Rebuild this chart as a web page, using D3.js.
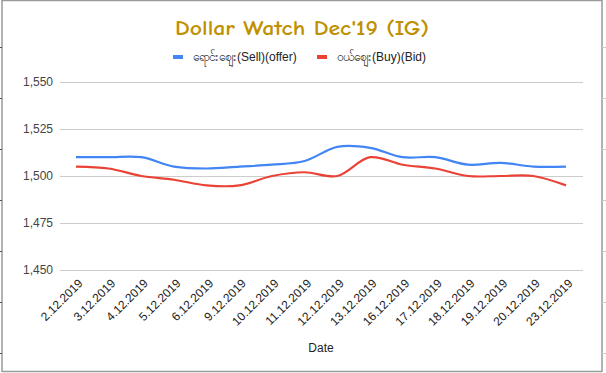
<!DOCTYPE html>
<html>
<head>
<meta charset="utf-8">
<script src="https://cdn.jsdelivr.net/npm/d3@7"></script>
<style>
  body { margin: 0; background: #fff; }
  svg { display: block; font-family: Arial, "Liberation Sans", sans-serif; }
</style>
</head>
<body>
<svg id="chart" width="606" height="373"></svg>
<script>
// dates on the x axis
var dates = ["2.12.2019", "3.12.2019", "4.12.2019", "5.12.2019", "6.12.2019", "9.12.2019",
    "10.12.2019", "11.12.2019", "12.12.2019", "13.12.2019", "16.12.2019", "17.12.2019",
    "18.12.2019", "19.12.2019", "20.12.2019", "23.12.2019"];
// sell (offer) rates
var sellValues = [1510, 1510, 1510, 1505, 1504, 1505, 1506, 1508, 1515.5, 1515, 1510, 1510, 1506, 1507, 1505, 1505];
// buy (bid) rates
var buyValues = [1505, 1504, 1500, 1498, 1495, 1495, 1500, 1502, 1500, 1510, 1506, 1504, 1500, 1500, 1500, 1495];
var yTicks = [1450, 1475, 1500, 1525, 1550];
var seriesNames = ["ရောင်းဈေး(Sell)(offer)", "ဝယ်ဈေး(Buy)(Bid)"];
var seriesColors = ["#4285f4", "#ea4335"];

var svg = d3.select("#chart");
var width = 606, height = 373;

// sheet cell borders around the chart
var frame = svg.append("g");
frame.append("line").attr("x1", 2).attr("y1", 0.5).attr("x2", 602).attr("y2", 0.5)
    .attr("stroke", "#9a9a9a").attr("stroke-width", 1.5);
frame.append("line").attr("x1", 2).attr("y1", 0).attr("x2", 2).attr("y2", 372)
    .attr("stroke", "#9a9a9a").attr("stroke-width", 1.5);
frame.append("line").attr("x1", 602).attr("y1", 0).attr("x2", 602).attr("y2", 372)
    .attr("stroke", "#9a9a9a").attr("stroke-width", 1.5);
frame.append("line").attr("x1", 2).attr("y1", 371.5).attr("x2", 602).attr("y2", 371.5)
    .attr("stroke", "#9a9a9a").attr("stroke-width", 1.5);
d3.range(47, 373, 51).forEach(function (ty) {
    frame.append("line").attr("x1", 0).attr("x2", 2).attr("y1", ty + 0.5).attr("y2", ty + 0.5)
        .attr("stroke", "#555");
    frame.append("line").attr("x1", 602).attr("x2", 606).attr("y1", ty + 0.5).attr("y2", ty + 0.5)
        .attr("stroke", "#ccc");
});

var plotLeft = 60, plotRight = 583;
var x = d3.scalePoint().domain(dates).range([76, 566]);
var y = d3.scaleLinear().domain([1450, 1550]).range([270, 82]);

// title
svg.append("text")
    .attr("x", 302).attr("y", 35)
    .attr("text-anchor", "middle")
    .attr("font-family", "'Comic Sans MS', 'Comic Neue', 'DejaVu Sans', sans-serif")
    .attr("font-weight", "bold")
    .attr("font-size", 21)
    .attr("fill", "#bf9000")
    .attr("textLength", 254)
    .attr("lengthAdjust", "spacingAndGlyphs")
    .text("Dollar Watch Dec'19 (IG)");

// legend
var legendX = [173, 317];
seriesNames.forEach(function (name, i) {
    svg.append("rect")
        .attr("x", legendX[i]).attr("y", 55)
        .attr("width", 10).attr("height", 4)
        .attr("fill", seriesColors[i]);
    svg.append("text")
        .attr("x", legendX[i] + 20).attr("y", 61)
        .attr("font-size", 12)
        .attr("fill", "#222")
        .text(name);
});

// grid + y labels
var yAxis = d3.axisLeft(y).tickValues(yTicks).tickSize(-(plotRight - plotLeft)).tickPadding(7)
    .tickFormat(d3.format(","));
var yG = svg.append("g").attr("transform", "translate(" + plotLeft + ",0)").call(yAxis);
yG.select(".domain").remove();
yG.selectAll(".tick line").attr("stroke", "#cccccc");
yG.selectAll(".tick text").attr("font-size", 12).attr("fill", "#444")
    .attr("font-family", "Arial, 'Liberation Sans', sans-serif");

// x labels, rotated
var xAxis = d3.axisBottom(x).tickSize(0).tickPadding(0);
var xG = svg.append("g").attr("transform", "translate(0,270)").call(xAxis);
xG.select(".domain").remove();
xG.selectAll(".tick text")
    .attr("font-size", 12).attr("fill", "#222")
    .attr("font-family", "Arial, 'Liberation Sans', sans-serif")
    .attr("text-anchor", "end")
    .attr("dy", null)
    .attr("transform", "translate(7,14) rotate(-45)");

// x axis title
svg.append("text")
    .attr("x", 321).attr("y", 352)
    .attr("text-anchor", "middle")
    .attr("font-size", 12).attr("fill", "#222")
    .text("Date");

// lines
var line = d3.line()
    .x(function (d, i) { return x(dates[i]); })
    .y(function (d) { return y(d); })
    .curve(d3.curveCatmullRom.alpha(0.5));

[sellValues, buyValues].forEach(function (vals, i) {
    svg.append("path")
        .datum(vals)
        .attr("d", line)
        .attr("fill", "none")
        .attr("stroke", seriesColors[i])
        .attr("stroke-width", 2.2);
});
</script>
</body>
</html>
